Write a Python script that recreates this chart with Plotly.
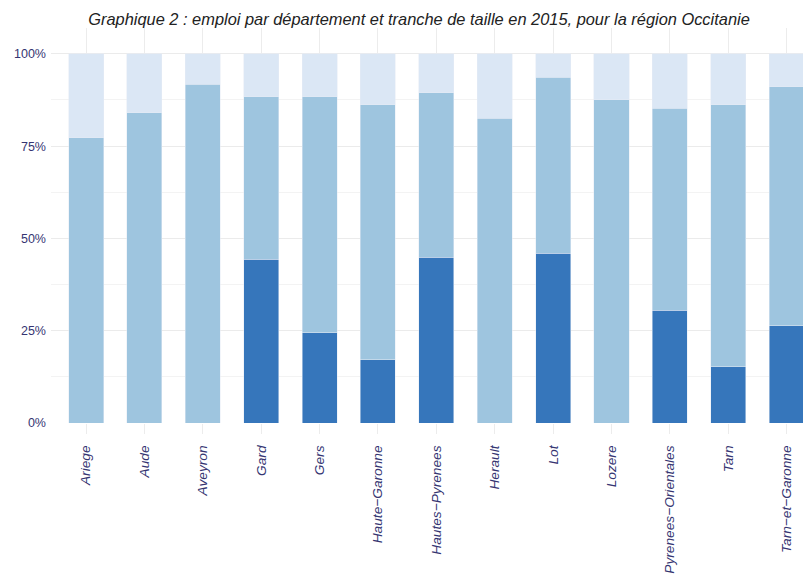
import plotly.graph_objects as go

departements = ["Ariege", "Aude", "Aveyron", "Gard", "Gers", "Haute\u2212Garonne",
                "Hautes\u2212Pyrenees", "Herault", "Lot", "Lozere",
                "Pyrenees\u2212Orientales", "Tarn", "Tarn\u2212et\u2212Garonne"]

# share of employment (%) by size class, stacked bottom -> top
tranche_grande = [0, 0, 0, 44.4, 24.4, 17.1, 44.9, 0, 46.0, 0, 30.5, 15.3, 26.4]
tranche_moyenne = [77.3, 84.1, 91.8, 44.0, 64.0, 69.1, 44.6, 82.6, 47.7, 87.6, 54.8, 70.9, 64.7]
tranche_petite = [22.7, 15.9, 8.2, 11.6, 11.6, 13.8, 10.5, 17.4, 6.3, 12.4, 14.7, 13.8, 8.9]

y_ticks = [0, 25, 50, 75, 100]

fig = go.Figure()
fig.add_bar(x=departements, y=tranche_grande, name="Tranche 3", marker_color="#3676bb")
fig.add_bar(x=departements, y=tranche_moyenne, name="Tranche 2", marker_color="#9ec5df")
fig.add_bar(x=departements, y=tranche_petite, name="Tranche 1", marker_color="#dbe7f5")

fig.update_layout(
    barmode="stack",
    bargap=0.4,
    width=811, height=579,
    margin=dict(l=43, r=9, t=20, b=164, autoexpand=False),
    paper_bgcolor="white",
    plot_bgcolor="white",
    showlegend=False,
    font=dict(family="Liberation Sans, Arial, sans-serif"),
    title=dict(
        text="<i>Graphique 2 : emploi par département et tranche de taille en 2015, pour la région Occitanie</i>",
        x=411/811, xref="container", xanchor="center",
        y=1 - 11/579, yref="container", yanchor="middle",
        font=dict(size=16.4, color="#222222"),
    ),
)

fig.update_xaxes(
    range=[-0.6, 12.4],
    automargin=False,
    tickangle=-90,
    tickfont=dict(size=13.7, color="#353572", family="Liberation Sans, Arial, sans-serif", style="italic"),
    showgrid=True, gridcolor="#ececec", gridwidth=1,
    ticks="outside", ticklen=10, tickcolor="#ececec",
    ticklabelstandoff=6,
    showline=False, zeroline=False,
)
fig.update_yaxes(
    range=[0, 107],
    automargin=False,
    tickvals=y_ticks,
    ticktext=[f"{v}%" for v in y_ticks],
    tickfont=dict(size=12.5, color="#353572"),
    showgrid=True, gridcolor="#ebebeb", gridwidth=1,
    minor=dict(dtick=12.5, tick0=0, showgrid=True, gridcolor="#f3f3f3", gridwidth=1),
    zeroline=False, showline=False,
    ticks="", ticklabelstandoff=4,
)

fig.write_html("out.html")
